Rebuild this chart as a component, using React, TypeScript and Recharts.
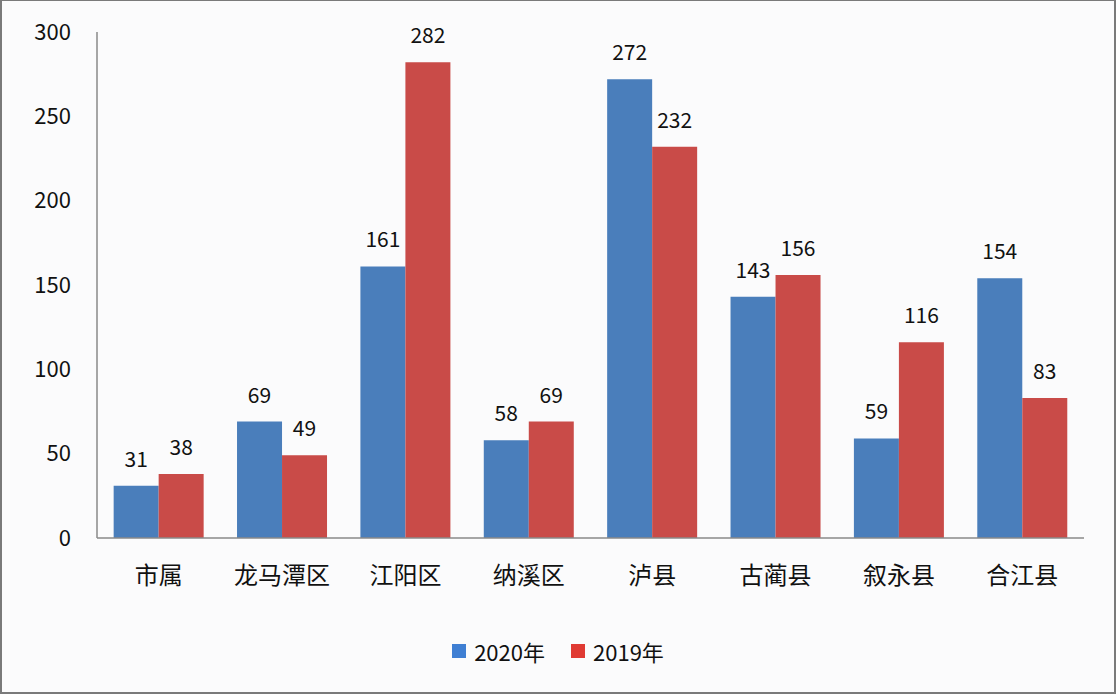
import { Bar, BarChart, LabelList, XAxis, YAxis } from "recharts";

const categories = ["市属", "龙马潭区", "江阳区", "纳溪区", "泸县", "古蔺县", "叙永县", "合江县"];
const values2020 = [31, 69, 161, 58, 272, 143, 59, 154];
const values2019 = [38, 49, 282, 69, 232, 156, 116, 83];
const yTicks = [0, 50, 100, 150, 200, 250, 300];

const data = categories.map((name, i) => ({
  name,
  y2020: values2020[i],
  y2019: values2019[i],
}));

const FONT = "'Noto Sans CJK SC', 'Noto Sans', sans-serif";
const BLUE = "#4a7ebb";
const RED = "#c94b48";

function LegendBox() {
  const items = [
    { label: "2020年", color: "#3f7fd3" },
    { label: "2019年", color: "#e03a33" },
  ];
  return (
    <div
      style={{
        position: "absolute",
        left: 0,
        right: 0,
        top: 634,
        display: "flex",
        justifyContent: "center",
        gap: 26,
        fontFamily: FONT,
        fontSize: 22,
      }}
    >
      {items.map((it) => (
        <div key={it.label} style={{ display: "flex", alignItems: "center", gap: 8 }}>
          <span style={{ width: 14, height: 14, background: it.color, display: "inline-block" }} />
          <span style={{ color: "#111" }}>{it.label}</span>
        </div>
      ))}
    </div>
  );
}

export default function App() {
  return (
    <div
      style={{
        position: "fixed",
        left: 0,
        top: 0,
        width: 1116,
        height: 694,
        background: "#fbfbfc",
        boxSizing: "border-box",
        border: "2px solid #7a7a7a",
        borderTopWidth: 1,
      }}
    >
      <div style={{ position: "absolute", left: -2, top: -1 }}>
        <BarChart
          width={1116}
          height={694}
          data={data}
          margin={{ top: 32, right: 32, left: 0, bottom: 96 }}
          barCategoryGap="13.5%"
          barGap={0}
        >
          <XAxis
            dataKey="name"
            height={60}
            tickSize={0}
            tickMargin={29}
            axisLine={{ stroke: "#8a8a8a", strokeWidth: 1.5 }}
            tickLine={false}
            tick={{ fill: "#111", fontSize: 24, fontFamily: FONT }}
            interval={0}
          />
          <YAxis
            width={97}
            domain={[0, 300]}
            ticks={yTicks}
            tickSize={0}
            tickMargin={26}
            axisLine={{ stroke: "#8a8a8a", strokeWidth: 1.5 }}
            tickLine={false}
            tick={{ fill: "#111", fontSize: 22, fontFamily: FONT }}
          />
          <Bar dataKey="y2020" name="2020年" fill={BLUE} isAnimationActive={false}>
            <LabelList
              dataKey="y2020"
              position="top"
              offset={19}
              style={{ fill: "#111", fontSize: 21, fontFamily: FONT }}
            />
          </Bar>
          <Bar dataKey="y2019" name="2019年" fill={RED} isAnimationActive={false}>
            <LabelList
              dataKey="y2019"
              position="top"
              offset={19}
              style={{ fill: "#111", fontSize: 21, fontFamily: FONT }}
            />
          </Bar>
        </BarChart>
      </div>
      <LegendBox />
    </div>
  );
}
